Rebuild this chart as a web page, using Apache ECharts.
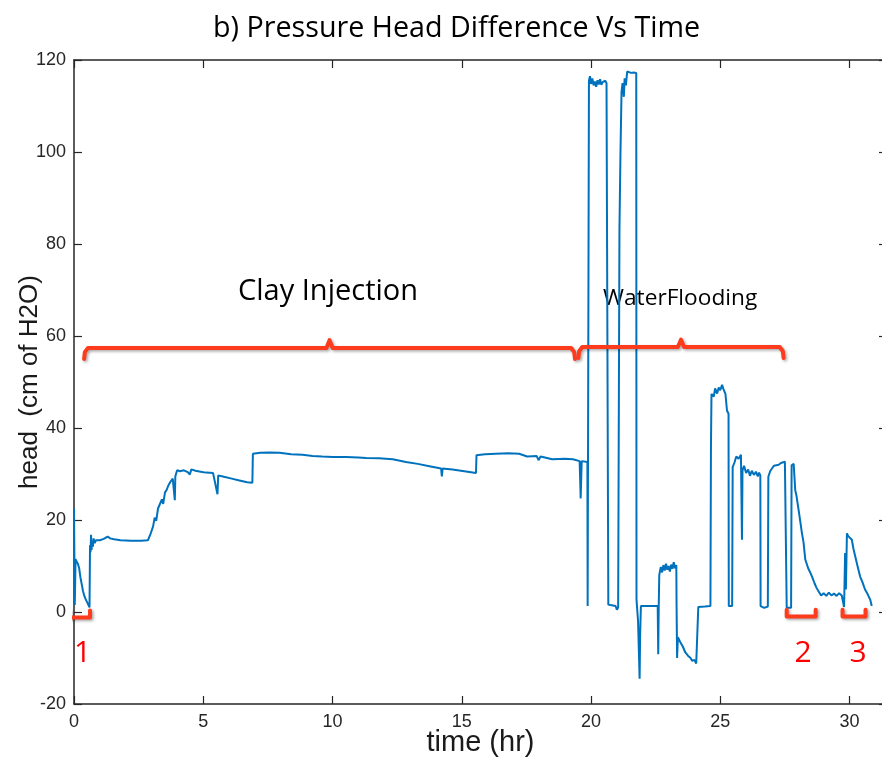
<!DOCTYPE html>
<html>
<head>
<meta charset="utf-8">
<script src="https://cdn.jsdelivr.net/npm/echarts@6/dist/echarts.min.js"></script>
<style>
  html, body { margin: 0; padding: 0; background: #ffffff; }
  #chart { width: 882px; height: 762px; }
</style>
</head>
<body>
<div id="chart"></div>
<script>
// Pressure head difference logged over the run (hours vs cm of H2O)
const timeHr = [
  0, 0.03, 0.06, 0.1, 0.15, 0.2, 0.25, 0.3, 0.35, 0.4, 0.45, 0.5, 0.55, 0.6,
  0.62, 0.64, 0.66, 0.68, 0.7, 0.73, 0.76, 0.8, 0.85, 0.9, 1.0, 1.15, 1.3, 1.4, 1.55, 1.8, 2.2, 2.6, 2.86,
  2.95, 3.06, 3.12, 3.18, 3.25, 3.32, 3.4, 3.45, 3.52, 3.58, 3.65, 3.72, 3.77, 3.82, 3.88, 3.9, 3.92,
  3.99, 4.1, 4.25, 4.4, 4.48, 4.54, 4.7, 4.9, 5.1, 5.38, 5.55, 5.58, 5.8, 6.1, 6.4, 6.7, 6.9,
  6.92, 7.2, 7.57, 7.95, 8.4, 8.84, 9.23, 9.6, 10.0, 10.53, 11.0, 11.3, 11.8, 12.33, 12.84, 13.3, 13.75,
  14.2, 14.23, 14.26, 14.64, 15.1, 15.55, 15.57, 15.9, 16.32, 16.8, 17.22, 17.53, 17.9, 17.97, 18.05,
  18.5, 19.0, 19.3, 19.56, 19.6, 19.64, 19.86, 19.87, 19.9, 19.92,
  19.96, 20.0, 20.05, 20.1, 20.15, 20.2, 20.25, 20.3, 20.35, 20.4, 20.45, 20.5, 20.55, 20.6, 20.66,
  20.67, 20.75, 20.85, 20.95, 21.0, 21.05, 21.1, 21.14, 21.18, 21.22, 21.27, 21.3, 21.35, 21.4, 21.45,
  21.55, 21.65, 21.75, 21.76, 21.82, 21.88, 21.9, 21.93, 22.2, 22.5, 22.58, 22.6, 22.62, 22.64,
  22.7, 22.75, 22.8, 22.85, 22.9, 22.95, 23.0, 23.05, 23.1, 23.15, 23.2, 23.25, 23.3, 23.31, 23.33,
  23.36, 23.45, 23.55, 23.65, 23.75, 23.85, 23.91, 24.0, 24.07, 24.14, 24.15, 24.4, 24.62, 24.64, 24.66,
  24.75, 24.8, 24.88, 24.94, 25.0, 25.07, 25.12, 25.2, 25.26, 25.32, 25.33, 25.46, 25.48, 25.55, 25.62,
  25.71, 25.8, 25.84, 25.86, 25.92, 26.0, 26.08, 26.15, 26.22, 26.3, 26.38, 26.45, 26.5, 26.55, 26.56,
  26.7, 26.84, 26.86, 26.93, 27.0, 27.08, 27.15, 27.26, 27.35, 27.42, 27.5, 27.56, 27.57, 27.74, 27.76,
  27.84, 27.9, 27.95, 28.03, 28.1, 28.16, 28.22, 28.29, 28.4, 28.48, 28.55, 28.65, 28.72, 28.8, 28.9,
  29.0, 29.1, 29.2, 29.3, 29.4, 29.5, 29.6, 29.7, 29.77, 29.79, 29.83, 29.86, 29.9, 29.95, 30.0, 30.09,
  30.15, 30.22, 30.3, 30.41, 30.5, 30.6, 30.7, 30.8, 30.86
];
const headCm = [
  22.5, 1.5, 11.5, 11, 10.5, 9.5, 7.5, 6, 4.5, 3.5, 2.8, 2.2, 1.6, 1.0,
  14.5, 13, 16.8, 13.5, 15.5, 14.2, 16, 15, 15.6, 15.3, 15.6, 15.9, 16.4, 16, 15.8, 15.6, 15.5, 15.5, 15.6,
  16.8, 18.6, 20.5, 19.8, 22.5, 22.2, 24.5, 23.5, 26, 26.5, 27.5, 28.2, 28.6, 29, 29.2, 24.3, 29.5,
  30.8, 30.6, 30.8, 30.4, 29.9, 31.0, 30.7, 30.5, 30.3, 30.2, 25.6, 29.7, 29.4, 29, 28.6, 28.2, 28.1,
  34.4, 34.6, 34.7, 34.6, 34.3, 34.2, 33.9, 33.8, 33.7, 33.7, 33.6, 33.5, 33.4, 33.2, 32.6, 32.2, 31.7,
  31.2, 29.5, 31.2, 31.0, 30.6, 30.2, 34.1, 34.3, 34.4, 34.5, 34.4, 33.8, 33.9, 33.0, 33.8,
  33.2, 33.3, 33.2, 32.8, 24.7, 32.8, 32.6, 1.3, 1.0, 115.5,
  116.5, 114.8, 116, 114.5, 115.3, 114.2, 115.6, 114.7, 115.8, 114.6, 115.2, 114.8, 115.5, 115, 115.3,
  1.6, 1.5, 1.4, 1.3, 0.5, 1.0, 83, 100, 113, 115, 112, 116, 114.5, 117.5, 117.2,
  117.2, 117.3, 117.2, 2.7, -2, -14.5, -5, 1.3, 1.3, 1.3, 1.3, -9.2, 1.3, 8,
  9.8, 8.6, 10.2, 9, 10.5, 9.2, 10, 8.8, 10.3, 9.4, 10.8, 9.5, 10.2, 1.3, -10,
  -5.5, -6.5, -7.5, -8.8, -9.5, -10, -10.6, -10.4, -11.2, -10.8, 1.1, 1.2, 1.3, 36, 47.4,
  46.8, 48.6, 47.5, 48.8, 48.2, 49.4, 48.5, 47.4, 43.8, 43.1, 1.3, 1.3, 31.5, 32.5, 33.8,
  33.3, 34.2, 15.7, 30.8, 31.8, 30.2, 31, 29.6, 30.7, 29.8, 30.5, 29.5, 30.3, 29.7, 1.3,
  0.9, 1.2, 29.4, 30.6, 31.2, 31.8, 31.4, 32, 32.4, 32.2, 32.7, 32.8, 0.9, 0.9, 31.9,
  32.2, 26.5, 25.2, 22.2, 19.5, 17.1, 15.2, 11.4, 9.5, 8.6, 7.7, 6.2, 5.3, 4.5, 3.6,
  4.1, 3.5, 4.2, 3.6, 4.0, 3.5, 4.1, 3.6, 3.4, 1.1, 12.8, 4.9, 17.1, 16.5, 16.2, 15.7,
  13.8, 12.1, 10.2, 7.7, 6.5, 4.9, 3.9, 2.7, 1.3
];

// Axis ticks
const xTicks = [0, 5, 10, 15, 20, 25, 30];
const yTicks = [-20, 0, 20, 40, 60, 80, 100, 120];

// Phase brackets in data units: [start hr, end hr, bar level, hook level, peak level]
const phaseBrackets = [
  [0.39, 19.38, 57.4, 55.0, 59.1],
  [19.51, 27.45, 57.6, 55.2, 59.2]
];
// Sample-point brackets: [start hr, end hr, top, bottom]
const sampleBrackets = [
  [-0.19, 0.62, 0.3, -1.2],
  [27.57, 28.69, 0.5, -1.0],
  [29.73, 30.62, 0.5, -1.0]
];
const sampleLabels = ['1', '2', '3'];
const sampleLabelShift = [3, 2, 4];

const series = timeHr.map((t, i) => [t, headCm[i]]);

function phasePath(b) {
  const [x0, x1, yBar, yHook, yPeak] = b;
  const mid = (x0 + x1) / 2;
  return [
    [x0, yHook], [x0 + 0.03, yBar - 0.9], [x0 + 0.15, yBar],
    [mid - 0.12, yBar], [mid, yPeak], [mid + 0.12, yBar],
    [x1 - 0.15, yBar], [x1 - 0.03, yBar - 0.9], [x1, yHook]
  ];
}
function samplePath(b) {
  const [x0, x1, yTop, yBot] = b;
  return [[x0, yTop], [x0, yBot], [x1, yBot], [x1, yTop]];
}

const bracketStyle = {
  color: '#ff3b1d', width: 4, join: 'round', cap: 'round',
  shadowColor: 'rgba(0,0,0,0.35)', shadowBlur: 3, shadowOffsetX: 1.5, shadowOffsetY: 1.5
};

const X_MIN = 0, X_MAX = 31.45, Y_MIN = -20, Y_MAX = 120;
const axisColor = '#262626';

const chart = echarts.init(document.getElementById('chart'), null, { renderer: 'canvas' });

const xCommon = {
  type: 'value', min: X_MIN, max: X_MAX, interval: 5,
  axisLine: { show: true, onZero: false, lineStyle: { color: axisColor, width: 1.5 } },
  axisTick: { show: true, inside: true, length: 8, lineStyle: { color: axisColor, width: 1.2 } },
  splitLine: { show: false }
};
const yCommon = {
  type: 'value', min: Y_MIN, max: Y_MAX, interval: 20,
  axisLine: { show: true, onZero: false, lineStyle: { color: axisColor, width: 1.5 } },
  axisTick: { show: true, inside: true, length: 8, lineStyle: { color: axisColor, width: 1.2 } },
  splitLine: { show: false }
};

const option = {
  animation: false,
  backgroundColor: '#ffffff',
  grid: { left: 74, right: -5, top: 60, bottom: 58, containLabel: false, outerBoundsMode: 'none' },
  xAxis: [
    Object.assign({}, xCommon, {
      position: 'bottom',
      name: 'time (hr)', nameLocation: 'middle', nameGap: 24, nameMoveOverlap: false,
      nameTextStyle: { fontFamily: 'Liberation Sans', fontSize: 29, color: '#1a1a1a' },
      axisLabel: {
        show: true, margin: 9, fontFamily: 'Liberation Sans', fontSize: 18, color: axisColor,
        formatter: v => (xTicks.indexOf(v) >= 0 ? String(v) : '')
      }
    }),
    Object.assign({}, xCommon, { position: 'top', axisLabel: { show: false } })
  ],
  yAxis: [
    Object.assign({}, yCommon, {
      position: 'left',
      name: 'head  (cm of H2O)', nameLocation: 'middle', nameGap: 31, nameMoveOverlap: false,
      nameTextStyle: { fontFamily: 'Liberation Sans', fontSize: 26, color: '#1a1a1a' },
      axisLabel: {
        show: true, margin: 8, fontFamily: 'Liberation Sans', fontSize: 18, color: axisColor,
        formatter: v => (yTicks.indexOf(v) >= 0 ? String(v) : '')
      }
    }),
    Object.assign({}, yCommon, { position: 'right', axisLabel: { show: false } })
  ],
  graphic: [
    { type: 'text', left: 213, top: 14,
      style: { text: 'b) Pressure Head Difference Vs Time', fontFamily: 'Open Sans', fontSize: 28.7, fill: '#000' } },
    { type: 'text', left: 238, top: 277,
      style: { text: 'Clay Injection', fontFamily: 'Open Sans', fontSize: 29, fill: '#000' } },
    { type: 'text', left: 603, top: 287,
      style: { text: 'WaterFlooding', fontFamily: 'Open Sans', fontSize: 22.7, fill: '#000' } }
  ],
  series: [
    {
      type: 'line', data: series, showSymbol: false, sampling: false,
      lineStyle: { color: '#0072bd', width: 2 }, z: 2
    }
  ].concat(phaseBrackets.map(b => ({
    type: 'line', data: phasePath(b), showSymbol: false, clip: false, smooth: false,
    lineStyle: bracketStyle, z: 5, silent: true
  }))).concat(sampleBrackets.map((b, i) => ({
    type: 'line', data: samplePath(b), showSymbol: false, clip: false,
    lineStyle: bracketStyle, z: 5, silent: true,
    markPoint: {
      symbol: 'circle', symbolSize: 0,
      data: [{ coord: [(b[0] + b[1]) / 2, -9], value: sampleLabels[i] }],
      label: {
        show: true, formatter: sampleLabels[i], fontFamily: 'Open Sans', fontSize: 30, color: '#ff0000',
        offset: [sampleLabelShift[i], 0]
      }
    }
  })))
};

chart.setOption(option);
</script>
</body>
</html>
